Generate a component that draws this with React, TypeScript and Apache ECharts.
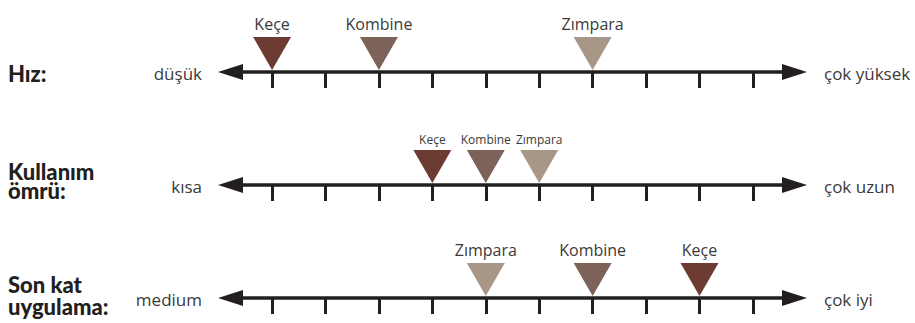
import React, { useEffect, useRef } from 'react';
import * as echarts from 'echarts';

// ---- data ----
const materials = ['Keçe', 'Kombine', 'Zımpara'];
const materialColors = ['#6c3b31', '#7d6259', '#a89786'];
const rowTitles = ['Hız:', 'Kullanım\nömrü:', 'Son kat\nuygulama:'];
const lowLabels = ['düşük', 'kısa', 'medium'];
const highLabels = ['çok yüksek', 'çok uzun', 'çok iyi'];
const hizValues = [0, 2, 6];
const omurValues = [3, 4, 5];
const sonKatValues = [8, 6, 4];
const tickValues = [0, 1, 2, 3, 4, 5, 6, 7, 8, 9];
const scaleMin = -0.75;
const scaleMax = 9.75;

// ---- layout ----
const lineYs = [72, 185, 298];
const markerFont = [16, 12, 16];
const titleYs = [73, 181, 295];
const titleFont = [22, 22, 22];
const titleLineHeights = [22, 19, 22];
const INK = '#231f20';
const TEXT = '#3a3a3a';

export default function App() {
  const ref = useRef<HTMLDivElement>(null);
  useEffect(() => {
    if (!ref.current) return;
    const chart = echarts.init(ref.current, undefined, { renderer: 'svg' });
    const rowValues = [hizValues, omurValues, sonKatValues];
    const option: any = {
      animation: false,
      grid: lineYs.map((y) => ({ left: 232, right: 122, top: y - 50, height: 50 })),
      xAxis: lineYs.map((_, i) => ({
        type: 'value',
        gridIndex: i,
        min: scaleMin,
        max: scaleMax,
        position: 'bottom',
        axisLine: {
          show: true,
          onZero: false,
          lineStyle: { color: INK, width: 3.5 },
          symbol: ['triangle', 'triangle'],
          symbolSize: [16, 25],
          symbolOffset: [-1.5, 1.5],
        },
        axisTick: {
          show: true,
          inside: false,
          length: 16,
          lineStyle: { color: INK, width: 3 },
          customValues: tickValues,
        },
        axisLabel: { show: false },
        splitLine: { show: false },
      })),
      yAxis: lineYs.map((_, i) => ({ type: 'value', gridIndex: i, min: 0, max: 1, show: false })),
      series: rowValues.map((vals, r) => ({
        type: 'scatter',
        xAxisIndex: r,
        yAxisIndex: r,
        symbol: 'path://M0,0L38,0L19,33Z',
        symbolSize: [38, 33],
        symbolOffset: [0, -18.5],
        silent: true,
        clip: false,
        z: 3,
        data: vals.map((v, i) => ({
          name: materials[i],
          value: [v, 0],
          itemStyle: { color: materialColors[i], opacity: 1 },
        })),
        label: {
          show: true,
          position: 'top',
          distance: 5,
          formatter: '{b}',
          fontFamily: 'Open Sans',
          fontSize: markerFont[r],
          color: TEXT,
        },
      })),
      graphic: [
        ...rowTitles.map((t, r) => ({
          type: 'text',
          x: 8,
          y: titleYs[r],
          style: {
            text: t,
            fill: INK,
            fontFamily: 'Lato',
            fontWeight: 900,
            fontSize: titleFont[r],
            lineHeight: titleLineHeights[r],
            align: 'left',
            verticalAlign: 'middle',
          },
        })),
        ...lowLabels.map((t, r) => ({
          type: 'text',
          x: 202,
          y: lineYs[r] + 1.5,
          style: {
            text: t,
            fill: TEXT,
            fontFamily: 'Open Sans',
            fontSize: 17,
            align: 'right',
            verticalAlign: 'middle',
          },
        })),
        ...highLabels.map((t, r) => ({
          type: 'text',
          x: 824,
          y: lineYs[r] + 1.5,
          style: {
            text: t,
            fill: TEXT,
            fontFamily: 'Open Sans',
            fontSize: 17,
            align: 'left',
            verticalAlign: 'middle',
          },
        })),
      ],
    };
    chart.setOption(option);
    return () => chart.dispose();
  }, []);
  return (
    <div
      ref={ref}
      style={{ position: 'fixed', left: 0, top: 0, width: 915, height: 323, background: '#fff' }}
    />
  );
}
